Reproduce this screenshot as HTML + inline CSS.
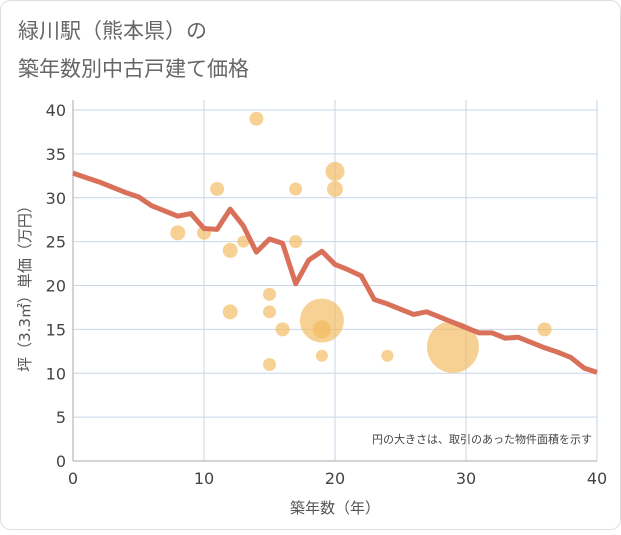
<!DOCTYPE html>
<html><head><meta charset="utf-8"><style>
body{margin:0;background:#fff;}
svg text{font-family:"DejaVu Sans","Liberation Sans","Noto Sans CJK JP",sans-serif;}
</style></head><body>
<svg width="621" height="530" viewBox="0 0 621 530">
<rect x="0.5" y="0.5" width="620" height="529" rx="10" fill="#fff" stroke="#ddd"/>
<text x="18" y="38" font-size="21" fill="#666">緑川駅（熊本県）の</text>
<text x="18" y="76" font-size="21" fill="#666">築年数別中古戸建て価格</text>
<g id="grid"></g>
<g id="axes"></g>
<g id="bubbles"></g>
<g id="line"></g>
<text x="592" y="443" font-size="11" fill="#444" text-anchor="end">円の大きさは、取引のあった物件面積を示す</text>
<text x="335" y="513" font-size="15" fill="#555" text-anchor="middle">築年数（年）</text>
<text transform="translate(30,285) rotate(-90)" font-size="15" fill="#555" text-anchor="middle">坪（3.3㎡）単価（万円）</text>
</svg>
<script>
const xTicks=[0,10,20,30,40];
const yTicks=[0,5,10,15,20,25,30,35,40];
const lineYears=[0,1,2,3,4,5,6,7,8,9,10,11,12,13,14,15,16,17,18,19,20,21,22,23,24,25,26,27,28,29,30,31,32,33,34,35,36,37,38,39,40];
const linePrices=[32.8,32.3,31.8,31.2,30.6,30.1,29.1,28.5,27.9,28.2,26.5,26.4,28.7,26.8,23.8,25.3,24.8,20.2,22.9,23.9,22.4,21.8,21.1,18.4,17.9,17.3,16.7,17.0,16.4,15.8,15.2,14.6,14.6,14.0,14.1,13.5,12.9,12.4,11.8,10.6,10.1];
const bubbleX=[14,11,17,20,20,8,10,12,13,17,15,12,15,16,19,19,19,24,15,29,36];
const bubbleY=[39,31,31,33,31,26,26,24,25,25,19,17,17,15,16,15,12,12,11,13,15];
const bubbleR=[7,7,6.5,9.5,8,7.5,7,7.5,6,6.5,6.5,7.5,6.5,7,22,9,6,6,6.5,26,7];
const X=v=>73+v*(597-73)/40, Y=v=>461-v*(461-110)/40;
const NS="http://www.w3.org/2000/svg";
function mk(t,a,p){const e=document.createElementNS(NS,t);for(const k in a)e.setAttribute(k,a[k]);p.appendChild(e);return e;}
const grid=document.getElementById('grid'),axes=document.getElementById('axes');
mk('rect',{x:73,y:100,width:524,height:361,fill:'#fff'},grid);
xTicks.forEach(t=>{const l=mk('line',{x1:X(t),x2:X(t),y1:100,y2:461,stroke:'#c8d6e6'},grid);


const tx=mk('text',{x:X(t),y:484,'font-size':16,fill:'#444','text-anchor':'middle'},axes);tx.textContent=t;

});
yTicks.forEach(t=>{const l=mk('line',{x1:73,x2:597,y1:Y(t),y2:Y(t),stroke:'#c8d6e6'},grid);


const tx=mk('text',{x:66,y:Y(t)+6,'font-size':16,fill:'#444','text-anchor':'end'},axes);tx.textContent=t;

});
mk('line',{x1:73,x2:73,y1:100,y2:461,stroke:'#aaa'},axes);
mk('line',{x1:73,x2:597,y1:461,y2:461,stroke:'#aaa'},axes);
const bg=document.getElementById('bubbles');
bubbleX.forEach((x,i)=>{const c=mk('circle',{cx:X(x),cy:Y(bubbleY[i]),r:bubbleR[i],fill:'#f3b95a','fill-opacity':0.65},bg);

});
const p=mk('polyline',{points:lineYears.map((x,i)=>X(x)+','+Y(linePrices[i])).join(' '),fill:'none',stroke:'#d9705a','stroke-width':5,'stroke-linejoin':'round'},document.getElementById('line'));


</script>
</body></html>
